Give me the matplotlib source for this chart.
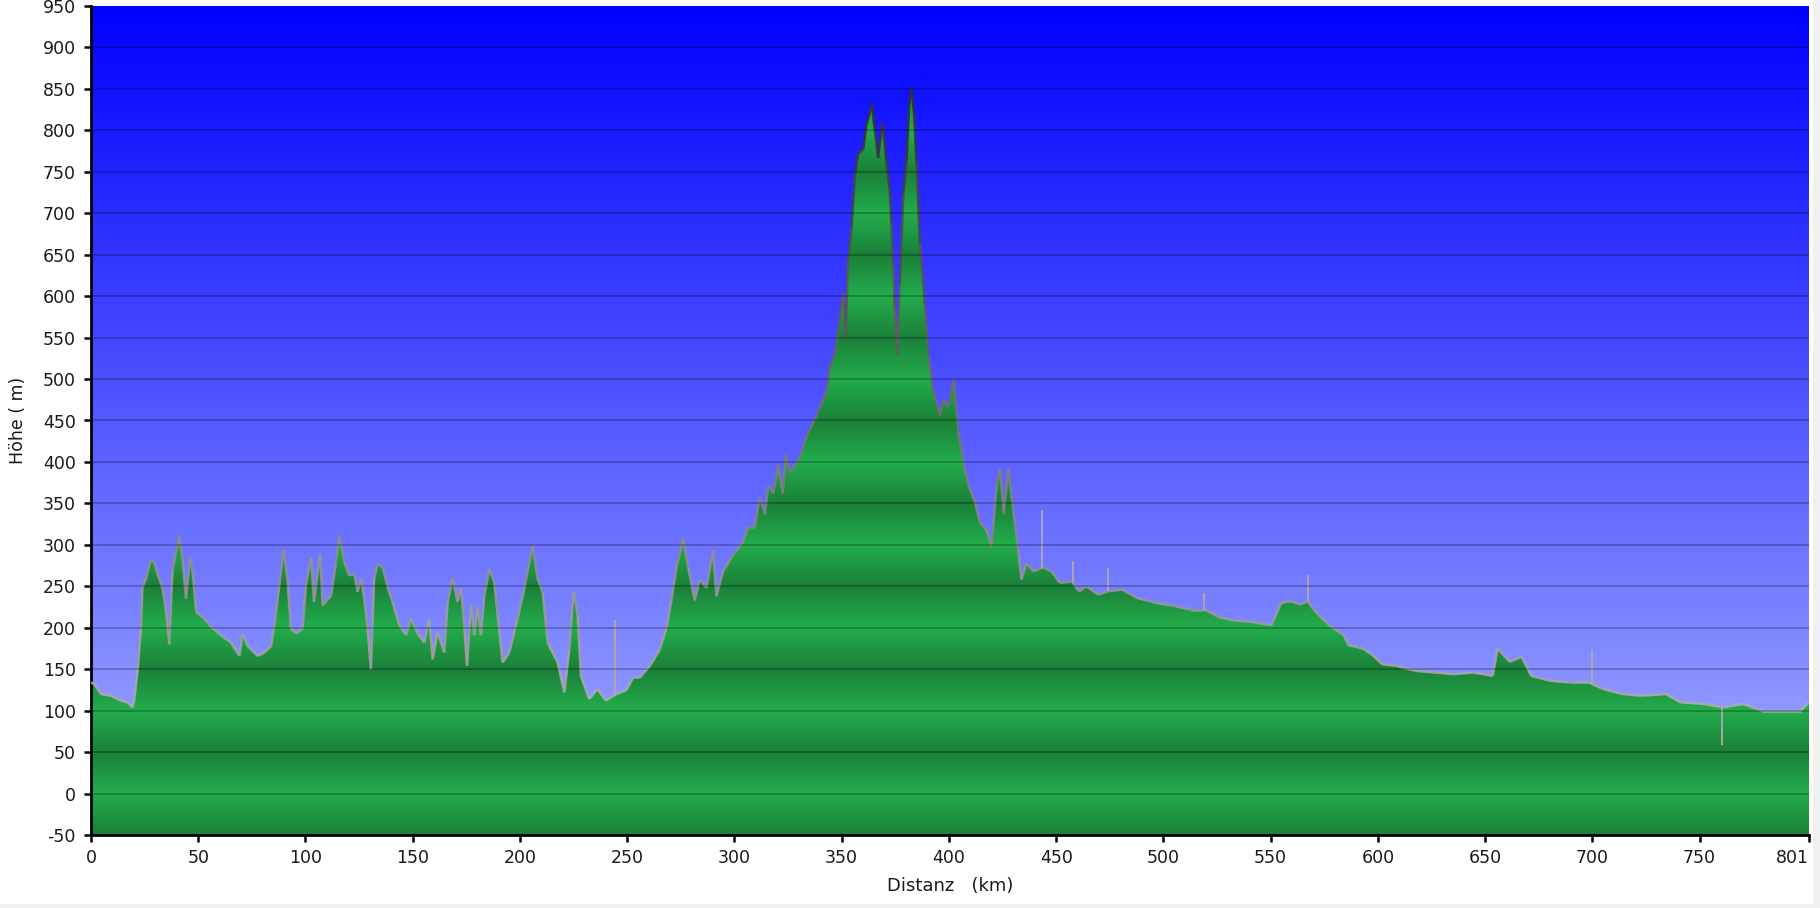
"""
Elevation profile (Höhenprofil) with gradient sky and banded terrain fill.
"""

import numpy as np
import matplotlib
matplotlib.use("Agg")
import matplotlib.pyplot as plt
from matplotlib.collections import LineCollection
from matplotlib.patches import Rectangle


# Profile, (distance km, height m)
profile_west = [
    (0, 134), (1.5, 132), (4.7, 120), (9.3, 118), (14, 112), (17, 110), (19.4, 104),
    (20.2, 114), (21.8, 150), (23.3, 199), (24, 249), (25.6, 259), (27.7, 281),
    (29.5, 279), (31, 265), (33.4, 247), (35, 219), (36.5, 180), (38, 269), (39.6, 291),
    (41.2, 311), (42.7, 283), (44.3, 235), (46.2, 285), (47.4, 267), (49, 219),
    (52.8, 211), (56, 201), (60.6, 191), (65.3, 182), (69.2, 166), (70.7, 193),
    (73, 178), (77.7, 166), (80.8, 170), (84, 178), (85.5, 203), (87.8, 251),
    (89.8, 295), (91.7, 255), (93.2, 199), (95.6, 193), (98.7, 199), (100.2, 251),
    (102.6, 285), (104, 231), (106.8, 289), (108, 227), (112, 239), (114.2, 279),
    (115.8, 311), (118.1, 279), (120.4, 263), (122.8, 265), (124.3, 243), (125.9, 259),
    (127.4, 235), (129, 199), (130.5, 150), (132, 259), (133.6, 277), (136, 273),
    (138.3, 249), (140.6, 231), (143.7, 203), (146.9, 191), (149.2, 211), (152.3, 193),
    (155.4, 182), (157.7, 211), (159.3, 162), (161.6, 195), (164.7, 170), (166.3, 231),
    (168.6, 259), (170.9, 231), (172.5, 247), (174, 203), (175.3, 154), (177.2, 227),
    (178.7, 191), (180.3, 225), (181.8, 191), (183.4, 239), (185.7, 271), (188, 255),
    (189.6, 215), (191.9, 158), (195, 170), (198.9, 211), (202, 247), (205.9, 299),
    (208.2, 259), (210.6, 243), (212.9, 182), (217.6, 158), (220.7, 122), (223, 174),
    (225, 243), (226.9, 215), (228.4, 142), (232.3, 114), (236.2, 126), (240, 112),
]

profile_mid = [
    (245, 120), (249.7, 125), (252.8, 140), (255.9, 140), (260.6, 154), (265.2, 174),
    (268.3, 199), (270.6, 233), (273, 273), (276.1, 308), (278.4, 273), (281.5, 233),
    (283.8, 258), (287, 248), (290, 293), (291.6, 238), (294.7, 268), (299.4, 288),
    (304, 303), (306.4, 322), (309.5, 322), (311.8, 357), (314.2, 337), (315.8, 372),
    (318.1, 362), (320.4, 397), (322.5, 362), (324, 409), (325.9, 387), (330.5, 406),
    (333.7, 431), (338.3, 456), (343, 485), (344.5, 515), (346.8, 530), (348.4, 560),
    (350.7, 604), (351.8, 550), (353, 643), (354.6, 683), (356.2, 747), (357.7, 772),
    (360, 777), (361.6, 807), (364, 831), (365.4, 802), (367, 767), (369, 809),
    (370.9, 762), (372.4, 727), (373.2, 688), (374, 639), (374.8, 584), (375.9, 530),
    (377.1, 614), (378.7, 723), (380.2, 762), (381.5, 831), (382.6, 851), (383.7, 821),
    (384.9, 762), (386.5, 663), (388.8, 589), (390.4, 530), (392.7, 485), (395.8, 456),
    (397.4, 475), (399.7, 466), (402.3, 500), (404.4, 436), (406.7, 401), (409, 372),
    (412.1, 352), (414.5, 327), (417.6, 317), (419.9, 298), (422.2, 372), (423.8, 392),
    (425.6, 337), (427.6, 392), (430, 342), (432.3, 293), (433.8, 258), (436.2, 278),
    (439.3, 268), (443.9, 273), (447.8, 268), (451.7, 254),
]

profile_east = [
    (457.3, 256), (460.7, 244), (464, 250), (469.7, 240), (474.2, 244), (480.9, 246),
    (487.6, 236), (496.6, 230), (505.6, 226), (512.3, 222), (519.1, 222), (525.8, 213),
    (532.5, 209), (541.5, 207), (550.4, 203), (554.9, 230), (559.4, 232), (563.9, 228),
    (567.2, 232), (570.6, 220), (577.3, 203), (584.1, 191), (586.3, 179), (593, 175),
    (597.5, 167), (602, 156), (608.7, 154), (617.7, 148), (626.6, 146), (635.6, 144),
    (644.5, 146), (653.5, 142), (655.8, 175), (661.4, 159), (667, 165), (671.5, 142),
    (680.5, 136), (689.5, 134), (698.4, 134), (705.1, 126), (714.1, 120), (723.1, 118),
    (734.3, 120), (741, 110), (752.2, 108), (761.2, 104), (770.2, 108), (779.2, 100),
    (788.1, 100), (797.1, 100), (801, 110),
]

# thin GPS spikes drawn on top of the outline (km, spike height m)
spikes = [(244.3, 209), (443.2, 342), (457.9, 280), (474.2, 272), (519.1, 242),
          (567.2, 264), (700, 173), (760.4, 59)]

x_ticks = list(range(0, 751, 50)) + [801]
y_ticks = list(range(-50, 951, 50))

X_MAX = 801
Y_MIN, Y_MAX = -50, 950


def band_colors(heights):
    """Triangle-wave shading: light at every 100 m, dark at the 50 m in between."""
    light = np.array([35, 173, 76]) / 255
    dark = np.array([27, 128, 57]) / 255
    t = 1 - np.abs((heights % 100) - 50) / 50.0   # 1 at 50, 0 at multiples of 100
    return dark[None, :] * t[:, None] + light[None, :] * (1 - t[:, None])


def main():
    pts = np.array(profile_west + profile_mid + profile_east, dtype=float)
    dist, elev = pts[:, 0], pts[:, 1]

    fig = plt.figure(figsize=(18.2, 9.08), dpi=100)
    fig.patch.set_facecolor("white")
    fig.patches.append(Rectangle((1813 / 1820, 0), 7 / 1820, 1, transform=fig.transFigure,
                                 facecolor="#f0f0f0", edgecolor="none"))
    fig.patches.append(Rectangle((0, 0), 1, 4 / 908, transform=fig.transFigure,
                                 facecolor="#f0f0f0", edgecolor="none"))

    ax = fig.add_axes([91 / 1820, (908 - 835) / 908, (1809 - 91) / 1820, (835 - 6) / 908])

    # sky gradient
    n = 400
    frac = np.linspace(0, 1, n)[:, None]
    top = np.array([0, 0, 255]) / 255
    bottom = np.array([168, 178, 255]) / 255
    sky = top * (1 - frac) + bottom * frac
    ax.imshow(sky[:, None, :], extent=[0, X_MAX, Y_MIN, Y_MAX], aspect="auto",
              origin="upper", zorder=0, interpolation="bilinear")

    # banded terrain fill, clipped to the profile
    poly = ax.fill_between(dist, elev, Y_MIN, facecolor="none", edgecolor="none", zorder=1)
    hh = np.linspace(Y_MAX, Y_MIN, 1000)
    terrain = band_colors(hh)
    im = ax.imshow(terrain[:, None, :], extent=[0, X_MAX, Y_MIN, Y_MAX], aspect="auto",
                   origin="upper", zorder=2, interpolation="bilinear")
    im.set_clip_path(poly.get_paths()[0], transform=ax.transData)

    # outline, darker the higher it goes
    segs = np.stack([np.column_stack([dist[:-1], elev[:-1]]),
                     np.column_stack([dist[1:], elev[1:]])], axis=1)
    mid_h = (elev[:-1] + elev[1:]) / 2
    g = np.clip(0.68 - (mid_h - 100) / 750 * 0.5, 0.18, 0.68)
    cols = np.column_stack([g, g, g + 0.02, np.full_like(g, 0.9)])
    ax.add_collection(LineCollection(segs, colors=cols, linewidths=1.8, zorder=3))

    base = np.interp([s[0] for s in spikes], dist, elev)
    ax.vlines([s[0] for s in spikes], base, [s[1] for s in spikes],
              colors="#a8a8b0", linewidth=1.4, zorder=3)

    # grid
    for y in y_ticks[1:-1]:
        ax.axhline(y, color="black", alpha=0.28, linewidth=1.2, zorder=4)

    ax.set_xlim(0, X_MAX)
    ax.set_ylim(Y_MIN, Y_MAX)
    ax.set_xticks(x_ticks)
    ax.set_yticks(y_ticks)
    ax.set_xticklabels([str(v) for v in x_ticks])
    ax.set_yticklabels([str(v) for v in y_ticks])
    ax.get_xticklabels()[-1].set_horizontalalignment("right")

    for side in ("top", "right"):
        ax.spines[side].set_visible(False)
    for side in ("left", "bottom"):
        ax.spines[side].set_linewidth(2)
        ax.spines[side].set_color("black")

    ax.tick_params(axis="both", direction="out", length=5, width=1.8, color="black",
                   labelsize=12.5, labelcolor="#1a1a1a")
    ax.tick_params(axis="y", pad=6)
    ax.tick_params(axis="x", pad=5)

    ax.set_xlabel("Distanz   (km)", fontsize=13, color="#1a1a1a", labelpad=7)
    ax.set_ylabel("Höhe ( m)", fontsize=12.5, color="#1a1a1a", labelpad=11)

    fig.savefig("out.png", dpi=100)
    plt.close(fig)


if __name__ == "__main__":
    main()
